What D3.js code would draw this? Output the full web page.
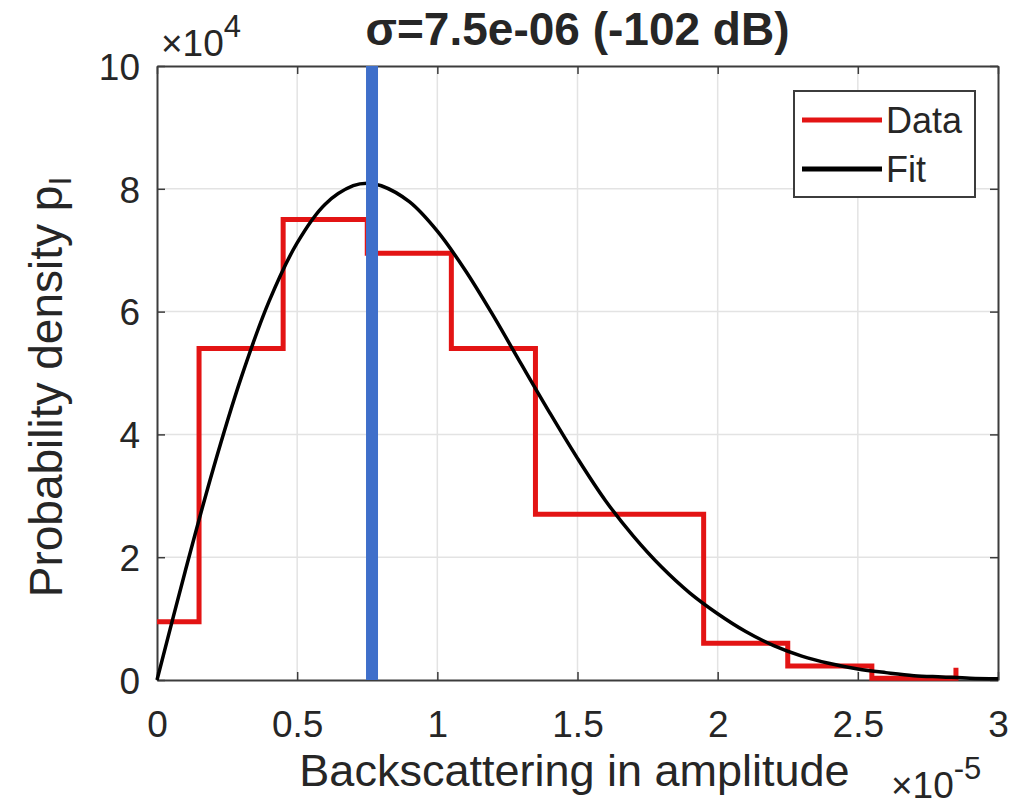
<!DOCTYPE html>
<html>
<head>
<meta charset="utf-8">
<script src="https://cdn.jsdelivr.net/npm/d3@7"></script>
<style>
  body { margin: 0; background: #fff; }
  text { font-family: "Liberation Sans", Arial, sans-serif; fill: #262626; }
</style>
</head>
<body>
<script>
// histogram (stairs): left edge of each step, in units of 1e-5, and density in units of 1e4
var stepX = [0, 0.15, 0.45, 0.75, 1.05, 1.35, 1.65, 1.95, 2.25, 2.55, 2.85];
var stepY = [0.95, 5.4, 7.5, 6.95, 5.4, 2.7, 2.7, 0.6, 0.23, 0.03, 0.2];

// fitted curve
var fitX = [0, 0.1, 0.2, 0.3, 0.4, 0.5, 0.6, 0.7, 0.75, 0.8, 0.9, 1.0, 1.1, 1.2, 1.3, 1.4, 1.5,
            1.6, 1.7, 1.8, 1.9, 2.0, 2.1, 2.2, 2.3, 2.4, 2.5, 2.6, 2.7, 2.8, 2.9, 3.0];
var fitY = [0, 1.76, 3.43, 4.92, 6.17, 7.12, 7.75, 8.05, 8.09, 8.05, 7.79, 7.31, 6.67, 5.93, 5.14, 4.36, 3.61,
            2.92, 2.34, 1.84, 1.42, 1.08, 0.79, 0.56, 0.39, 0.27, 0.18, 0.12, 0.07, 0.05, 0.03, 0.02];

var sigmaX = 0.767;

var xTicks = [0, 0.5, 1, 1.5, 2, 2.5, 3];
var xTickLabels = ['0', '0.5', '1', '1.5', '2', '2.5', '3'];
var yTicks = [0, 2, 4, 6, 8, 10];
var yTickLabels = ['0', '2', '4', '6', '8', '10'];

var legendNames = ['Data', 'Fit'];
var legendColors = ['#e31414', '#000000'];

var width = 1022;
var height = 805;
var plotLeft = 157, plotRight = 998, plotTop = 66, plotBottom = 680;

var x = d3.scaleLinear().domain([0, 3]).range([plotLeft, plotRight]);
var y = d3.scaleLinear().domain([0, 10]).range([plotBottom, plotTop]);

var svg = d3.select('body').append('svg')
  .attr('width', width)
  .attr('height', height);

// grid
svg.append('g').selectAll('line')
  .data(xTicks.slice(1, -1))
  .enter().append('line')
    .attr('x1', x).attr('x2', x)
    .attr('y1', plotTop).attr('y2', plotBottom)
    .attr('stroke', '#e3e3e3').attr('stroke-width', 1.5);

svg.append('g').selectAll('line')
  .data(yTicks.slice(1, -1))
  .enter().append('line')
    .attr('y1', y).attr('y2', y)
    .attr('x1', plotLeft).attr('x2', plotRight)
    .attr('stroke', '#e3e3e3').attr('stroke-width', 1.5);

// axes, ticks pointing inward
var xAxis = d3.axisBottom(x).tickValues(xTicks).tickSize(-8).tickSizeOuter(0)
  .tickFormat(function(d, i) { return xTickLabels[i]; });
var yAxis = d3.axisLeft(y).tickValues(yTicks).tickSize(-8).tickSizeOuter(0)
  .tickFormat(function(d, i) { return yTickLabels[i]; });

var gx = svg.append('g').attr('transform', 'translate(0,' + plotBottom + ')').call(xAxis);
var gy = svg.append('g').attr('transform', 'translate(' + plotLeft + ',0)').call(yAxis);
var gxTop = svg.append('g').attr('transform', 'translate(0,' + plotTop + ')')
  .call(d3.axisTop(x).tickValues(xTicks).tickSize(-8).tickSizeOuter(0).tickFormat(''));
var gyRight = svg.append('g').attr('transform', 'translate(' + plotRight + ',0)')
  .call(d3.axisRight(y).tickValues(yTicks).tickSize(-8).tickSizeOuter(0).tickFormat(''));

[gx, gy, gxTop, gyRight].forEach(function(g) {
  g.select('.domain').attr('stroke', '#3c3c3c').attr('stroke-width', 2);
  g.selectAll('.tick line').attr('stroke', '#3c3c3c').attr('stroke-width', 1.5);
});

gx.selectAll('.tick text')
  .attr('y', 57)
  .attr('dy', 0)
  .style('font-size', '37px');
gy.selectAll('.tick text')
  .attr('x', -17)
  .attr('dy', '0.36em')
  .style('font-size', '37px');

// histogram stairs
var stairPts = [];
for (var i = 0; i < stepX.length; i++) {
  if (i > 0) stairPts.push([stepX[i], stepY[i - 1]]);
  stairPts.push([stepX[i], stepY[i]]);
}

var line = d3.line()
  .x(function(d) { return x(d[0]); })
  .y(function(d) { return y(d[1]); });

svg.append('path')
  .datum(stairPts)
  .attr('d', line)
  .attr('fill', 'none')
  .attr('stroke', legendColors[0])
  .attr('stroke-width', 5);

// fit curve
var fitPts = fitX.map(function(v, i) { return [v, fitY[i]]; });
svg.append('path')
  .datum(fitPts)
  .attr('d', d3.line()
    .x(function(d) { return x(d[0]); })
    .y(function(d) { return y(d[1]); })
    .curve(d3.curveCatmullRom))
  .attr('fill', 'none')
  .attr('stroke', legendColors[1])
  .attr('stroke-width', 3.5);

// sigma marker
svg.append('line')
  .attr('x1', x(sigmaX)).attr('x2', x(sigmaX))
  .attr('y1', y(10)).attr('y2', y(0))
  .attr('stroke', '#3f6fca')
  .attr('stroke-width', 12);

// exponent labels
var e4 = svg.append('text').attr('x', 161).attr('y', 56).style('font-size', '37px');
e4.append('tspan').text('×10');
e4.append('tspan').attr('dy', -19).style('font-size', '31px').text('4');

var e5 = svg.append('text').attr('x', 891).attr('y', 798).style('font-size', '37px');
e5.append('tspan').text('×10');
e5.append('tspan').attr('dy', -19).style('font-size', '31px').text('-5');

// title
svg.append('text')
  .attr('x', (plotLeft + plotRight) / 2)
  .attr('y', 45)
  .attr('text-anchor', 'middle')
  .style('font-size', '46px')
  .style('font-weight', 'bold')
  .text('σ=7.5e-06 (-102 dB)');

// axis labels
svg.append('text')
  .attr('x', (plotLeft + plotRight) / 2 - 3)
  .attr('y', 786)
  .attr('text-anchor', 'middle')
  .style('font-size', '45px')
  .text('Backscattering in amplitude');

var ylab = svg.append('text')
  .attr('transform', 'translate(62,387) rotate(-90)')
  .attr('text-anchor', 'middle')
  .style('font-size', '46px');
ylab.append('tspan').text('Probability density p');
ylab.append('tspan').attr('dy', 9).style('font-size', '32px').text('I');

// legend
var lg = svg.append('g');
lg.append('rect')
  .attr('x', 794).attr('y', 91)
  .attr('width', 181).attr('height', 106)
  .attr('fill', '#fff')
  .attr('stroke', '#3c3c3c')
  .attr('stroke-width', 2);

var rows = lg.selectAll('.row')
  .data(legendNames)
  .enter().append('g')
    .attr('class', 'row')
    .attr('transform', function(d, i) { return 'translate(0,' + (120 + i * 49) + ')'; });

rows.append('line')
  .attr('x1', 802).attr('x2', 882)
  .attr('stroke', function(d, i) { return legendColors[i]; })
  .attr('stroke-width', 5);

rows.append('text')
  .attr('x', 886)
  .attr('y', 13)
  .style('font-size', '36px')
  .text(function(d) { return d; });
</script>
</body>
</html>
